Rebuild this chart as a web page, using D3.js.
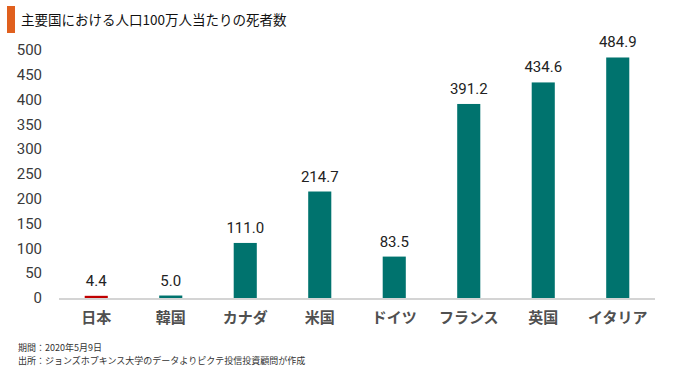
<!DOCTYPE html>
<html>
<head>
<meta charset="utf-8">
<script src="https://cdn.jsdelivr.net/npm/d3@7"></script>
<style>
  body { margin: 0; background: #fff; }
  text { font-family: Roboto, "Noto Sans CJK JP", sans-serif; }
  .jp { font-family: "Noto Sans CJK JP", sans-serif; }
</style>
</head>
<body>
<div id="chart"></div>
<script>
const categories = ['日本', '韓国', 'カナダ', '米国', 'ドイツ', 'フランス', '英国', 'イタリア'];
const deaths = [4.4, 5.0, 111.0, 214.7, 83.5, 391.2, 434.6, 484.9];
const yTicks = [0, 50, 100, 150, 200, 250, 300, 350, 400, 450, 500];
const title = '主要国における人口100万人当たりの死者数';
const notes = ['期間：2020年5月9日', '出所：ジョンズホプキンス大学のデータよりピクテ投信投資顧問が作成'];

const width = 680, height = 370;
const margin = { top: 50, right: 25, bottom: 72, left: 59 };

const svg = d3.select('#chart').append('svg')
  .attr('width', width)
  .attr('height', height);

// title with orange marker
svg.append('rect')
  .attr('x', 7).attr('y', 6).attr('width', 8).attr('height', 27)
  .attr('fill', '#E0601E');
svg.append('text')
  .attr('class', 'jp')
  .attr('x', 21).attr('y', 25)
  .attr('font-size', 13.5)
  .attr('fill', '#111')
  .text(title);

const x = d3.scaleBand()
  .domain(categories)
  .range([margin.left, width - margin.right])
  .paddingInner(0.69)
  .paddingOuter(0.345);

const y = d3.scaleLinear()
  .domain([0, 500])
  .range([height - margin.bottom, margin.top]);

// y tick labels (no axis line)
svg.append('g')
  .selectAll('text')
  .data(yTicks)
  .enter()
  .append('text')
  .attr('x', 42)
  .attr('y', (d) => y(d))
  .attr('dy', '0.35em')
  .attr('text-anchor', 'end')
  .attr('font-size', 15)
  .attr('fill', '#3a3a3a')
  .text((d) => d);

// bars
svg.append('g')
  .selectAll('rect')
  .data(deaths)
  .enter()
  .append('rect')
  .attr('x', (d, i) => x(categories[i]))
  .attr('y', (d) => y(d))
  .attr('width', x.bandwidth())
  .attr('height', (d) => y(0) - y(d))
  .attr('fill', (d, i) => (i === 0 ? '#C00000' : '#00736E'));

// baseline
svg.append('line')
  .attr('x1', margin.left).attr('x2', width - margin.right)
  .attr('y1', y(0) + 1).attr('y2', y(0) + 1)
  .attr('stroke', '#d4d4d4')
  .attr('stroke-width', 2);

// value labels
svg.append('g')
  .selectAll('text')
  .data(deaths)
  .enter()
  .append('text')
  .attr('x', (d, i) => x(categories[i]) + x.bandwidth() / 2)
  .attr('y', (d) => y(d) - 10)
  .attr('text-anchor', 'middle')
  .attr('font-size', 15)
  .attr('fill', '#222')
  .text((d) => d.toFixed(1));

// category labels
svg.append('g')
  .selectAll('text')
  .data(categories)
  .enter()
  .append('text')
  .attr('class', 'jp')
  .attr('x', (d) => x(d) + x.bandwidth() / 2)
  .attr('y', 323)
  .attr('text-anchor', 'middle')
  .attr('font-size', 15)
  .attr('font-weight', 'bold')
  .attr('fill', '#505050')
  .text((d) => d);

// notes
svg.append('g')
  .selectAll('text')
  .data(notes)
  .enter()
  .append('text')
  .attr('class', 'jp')
  .attr('x', 18)
  .attr('y', (d, i) => 351 + i * 13)
  .attr('font-size', 9)
  .attr('fill', '#333')
  .text((d) => d);
</script>
</body>
</html>
